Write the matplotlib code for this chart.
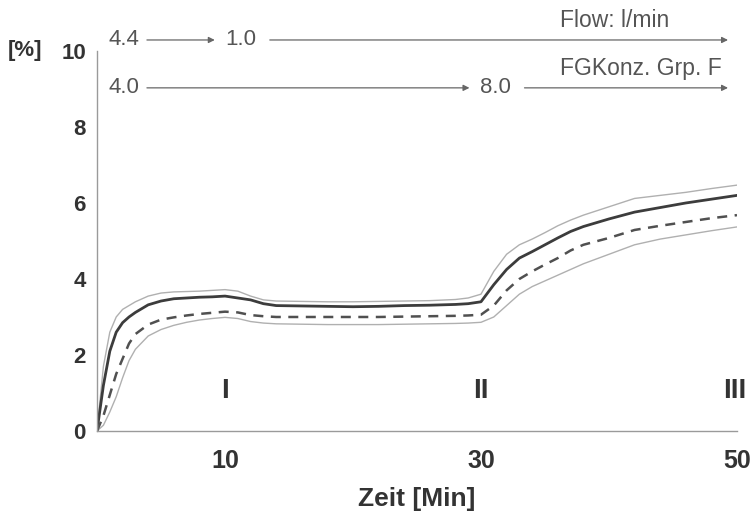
import matplotlib
matplotlib.use('Agg')
import matplotlib.pyplot as plt

plt.rcParams['font.family'] = ['Liberation Sans', 'DejaVu Sans']

# time axis [min]
zeit = [0, 0.5, 1, 1.5, 2, 2.5, 3, 4, 5, 6, 7, 8, 9, 10, 11, 12, 13, 14, 16, 18, 20,
        22, 24, 26, 28, 29, 30, 31, 32, 33, 34, 35, 36, 37, 38, 40, 42, 44, 46, 48, 50]

# solid curve and its upper band
mittel = [0, 1.2, 2.1, 2.6, 2.85, 3.0, 3.12, 3.32, 3.42, 3.48, 3.5, 3.52, 3.53, 3.55, 3.5,
          3.45, 3.35, 3.3, 3.29, 3.28, 3.27, 3.28, 3.3, 3.31, 3.33, 3.35, 3.4, 3.85, 4.25,
          4.55, 4.72, 4.9, 5.08, 5.25, 5.38, 5.58, 5.76, 5.88, 6.0, 6.1, 6.2]
oben = [0, 1.7, 2.6, 3.0, 3.2, 3.3, 3.4, 3.55, 3.63, 3.66, 3.67, 3.68, 3.7, 3.72, 3.68,
        3.55, 3.45, 3.42, 3.41, 3.40, 3.40, 3.41, 3.42, 3.43, 3.46, 3.5, 3.6, 4.2, 4.65,
        4.9, 5.05, 5.22, 5.4, 5.55, 5.68, 5.9, 6.12, 6.2, 6.28, 6.38, 6.47]

# dashed curve and its lower band
gestr = [0, 0.4, 0.95, 1.5, 1.9, 2.3, 2.55, 2.8, 2.93, 2.99, 3.04, 3.08, 3.11, 3.14, 3.12,
         3.05, 3.02, 3.0, 3.0, 3.0, 3.0, 3.0, 3.01, 3.02, 3.03, 3.04, 3.06, 3.3, 3.7,
         4.0, 4.2, 4.38, 4.55, 4.75, 4.9, 5.08, 5.29, 5.4, 5.5, 5.6, 5.68]
unten = [0, 0.15, 0.5, 0.9, 1.4, 1.85, 2.15, 2.5, 2.67, 2.78, 2.86, 2.92, 2.96, 2.99, 2.96,
         2.88, 2.84, 2.82, 2.81, 2.80, 2.80, 2.80, 2.81, 2.82, 2.83, 2.84, 2.86, 3.0, 3.3,
         3.6, 3.8, 3.95, 4.1, 4.25, 4.4, 4.65, 4.9, 5.05, 5.16, 5.27, 5.37]

x_ticks = [10, 30, 50]
y_ticks = [0, 2, 4, 6, 8, 10]
phasen = ['I', 'II', 'III']
phasen_x = [10, 30, 49.8]

fig = plt.figure(figsize=(7.52, 5.11), dpi=100)
ax = fig.add_axes([0.129, 0.1566, 0.851, 0.7436])

ax.plot(zeit, oben, color='#b0b0b0', lw=1.0)
ax.plot(zeit, unten, color='#b0b0b0', lw=1.0)
ax.plot(zeit, mittel, color='#3c3c3c', lw=2.0)
ax.plot(zeit, gestr, color='#505050', lw=1.8, dashes=(4, 3))

ax.set_xlim(0, 50)
ax.set_ylim(0, 10)
for s in ['top', 'right']:
    ax.spines[s].set_visible(False)
for s in ['left', 'bottom']:
    ax.spines[s].set_color('#9a9a9a')
    ax.spines[s].set_linewidth(1.0)

ax.set_xticks(x_ticks)
ax.set_yticks(y_ticks)
ax.tick_params(axis='x', length=0, pad=13, labelsize=18, labelcolor='#333333')
ax.tick_params(axis='y', length=0, pad=8, labelsize=16, labelcolor='#333333')
for lab in ax.get_xticklabels() + ax.get_yticklabels():
    lab.set_fontweight('bold')

ax.set_xlabel('Zeit [Min]', fontsize=19, fontweight='bold', color='#333333', labelpad=10)
ax.text(-4.3, 10, '[%]', fontsize=16, fontweight='bold', color='#333333',
        ha='right', va='center', clip_on=False)

for name, xp in zip(phasen, phasen_x):
    ax.text(xp, 1.05, name, fontsize=20, fontweight='bold', color='#333333',
            ha='center', va='center', clip_on=False)

# flow / concentration annotations
pfeil = dict(arrowstyle='-|>', color='#666666', lw=0.9, mutation_scale=9, shrinkA=0, shrinkB=0)
wert = dict(fontsize=16, color='#555555', va='center', clip_on=False)
titel = dict(fontsize=16.5, color='#555555', va='center', clip_on=False)

ax.text(0.86, 10.29, '4.4', **wert)
ax.annotate('', xy=(9.2, 10.29), xytext=(3.9, 10.29), arrowprops=pfeil, annotation_clip=False)
ax.text(10.0, 10.29, '1.0', **wert)
ax.annotate('', xy=(49.3, 10.29), xytext=(13.5, 10.29), arrowprops=pfeil, annotation_clip=False)
ax.text(36.2, 10.8, 'Flow: l/min', **titel)

ax.text(0.86, 9.03, '4.0', **wert)
ax.annotate('', xy=(29.1, 9.03), xytext=(3.9, 9.03), arrowprops=pfeil, annotation_clip=False)
ax.text(29.9, 9.03, '8.0', **wert)
ax.annotate('', xy=(49.3, 9.03), xytext=(33.4, 9.03), arrowprops=pfeil, annotation_clip=False)
ax.text(36.2, 9.55, 'FGKonz. Grp. F', **titel)

fig.savefig('out.png', dpi=100)
